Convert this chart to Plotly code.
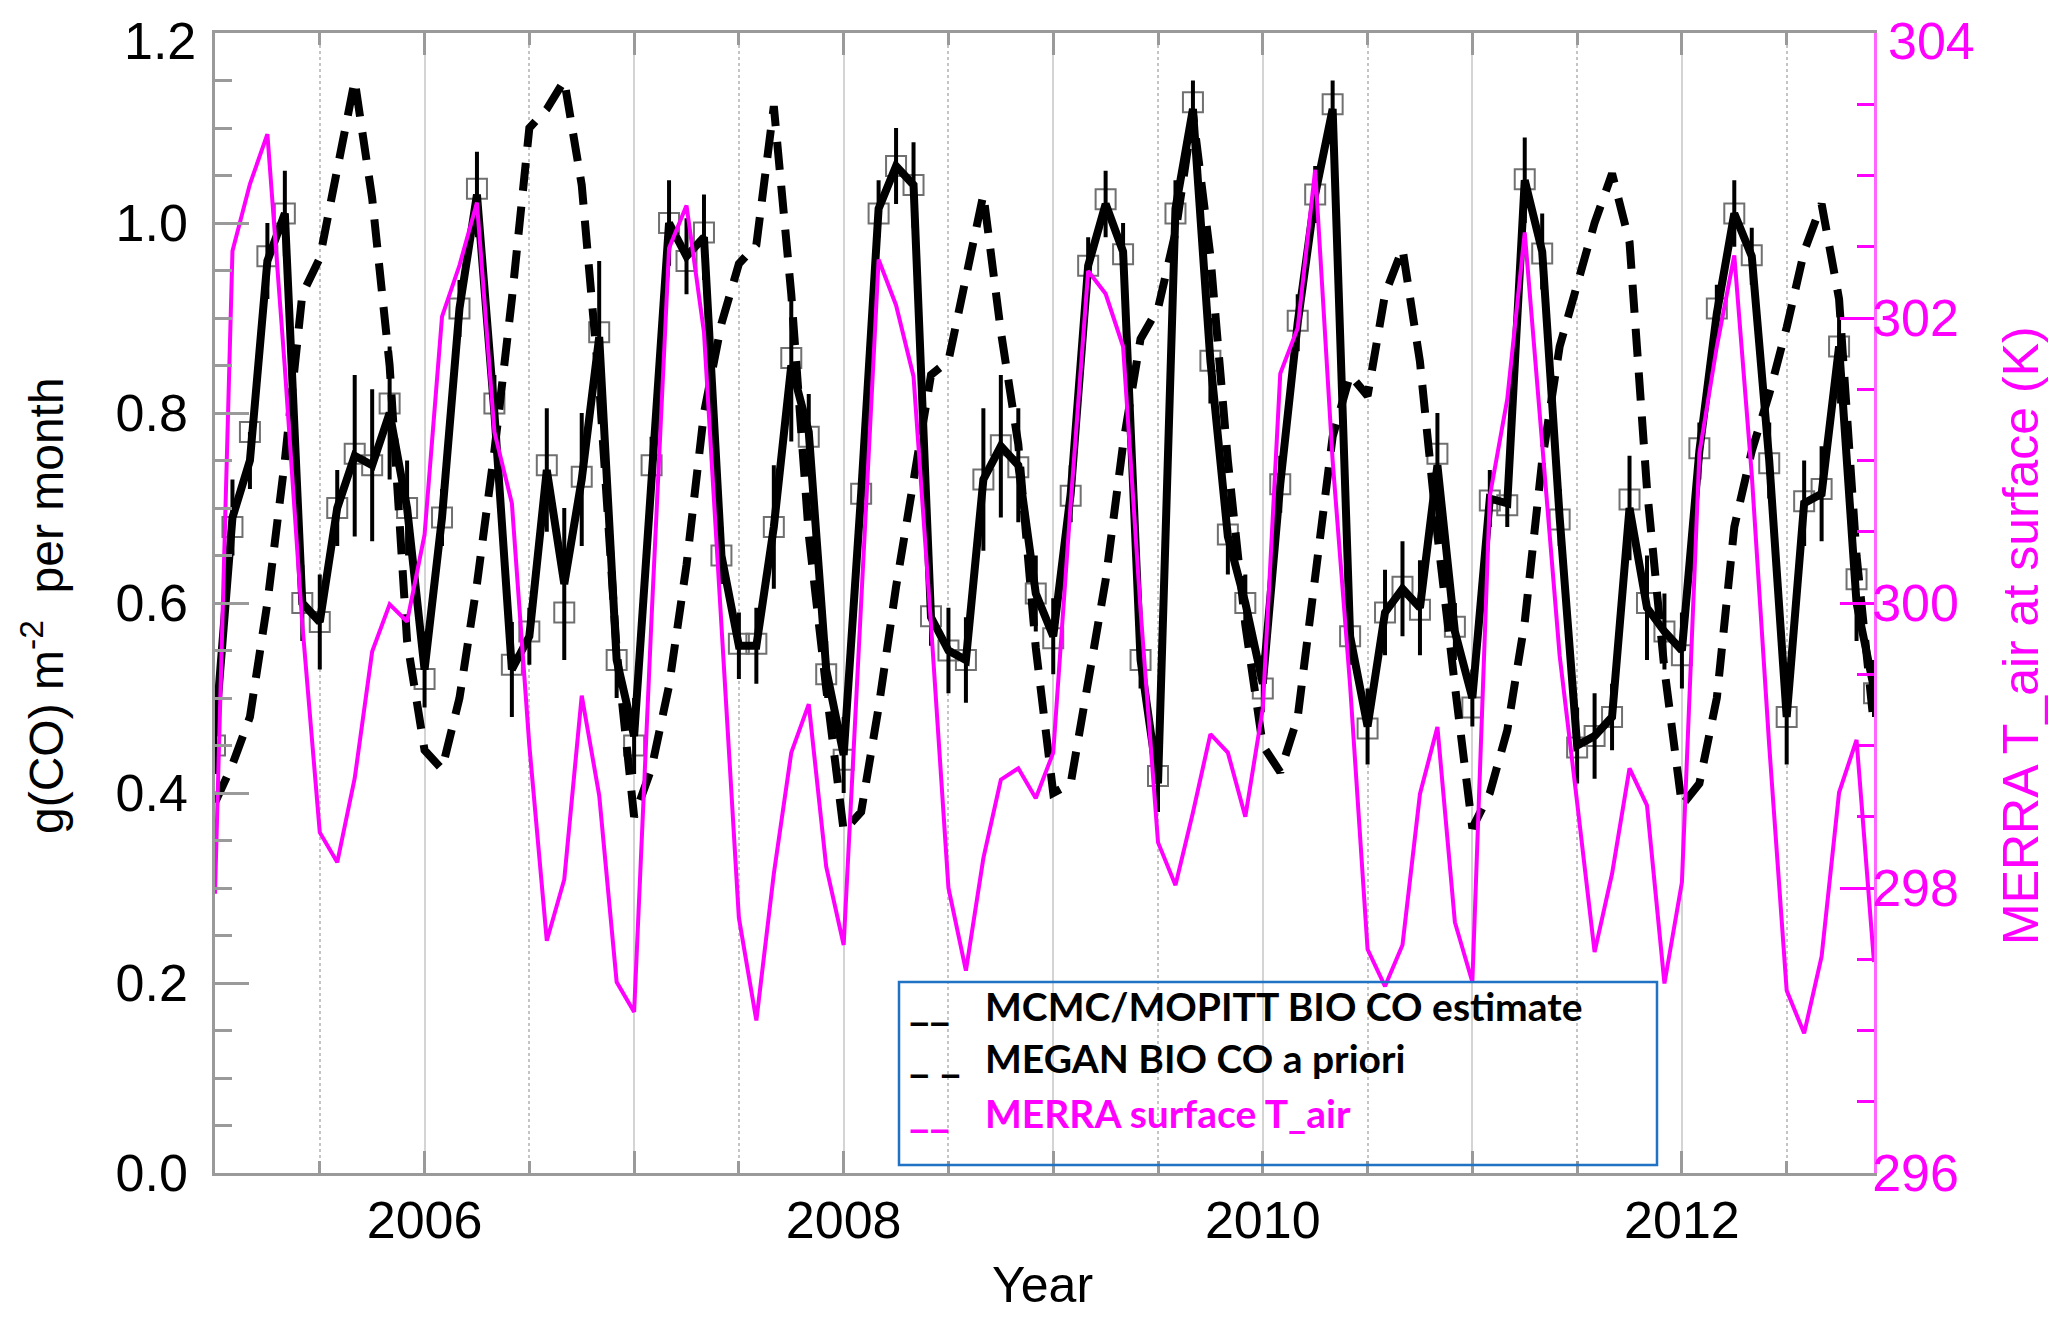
import plotly.graph_objects as go

# monthly values Jan 2005 - Dec 2012
months = [2005 + m / 12.0 for m in range(96)]

mcmc_co = [0.46, 0.69, 0.75, 0.96, 1.01, 0.60, 0.58, 0.70, 0.755, 0.745, 0.80, 0.70,
           0.53, 0.69, 0.91, 1.03, 0.80, 0.53, 0.565, 0.74, 0.62, 0.73, 0.88, 0.54,
           0.46, 0.745, 1.00, 0.965, 0.985, 0.65, 0.555, 0.555, 0.68, 0.85, 0.78, 0.53,
           0.44, 0.715, 1.015, 1.06, 1.04, 0.585, 0.55, 0.54, 0.73, 0.765, 0.745, 0.61,
           0.565, 0.715, 0.955, 1.02, 0.97, 0.54, 0.41, 1.015, 1.12, 0.855, 0.67, 0.60,
           0.515, 0.725, 0.895, 1.03, 1.12, 0.565, 0.47, 0.59, 0.615, 0.595, 0.745, 0.57,
           0.50, 0.71, 0.705, 1.045, 0.97, 0.69, 0.45, 0.46, 0.48, 0.70, 0.595, 0.57,
           0.55, 0.76, 0.905, 1.01, 0.965, 0.75, 0.48, 0.705, 0.715, 0.87, 0.60, 0.51]

mcmc_err = [0.04, 0.04, 0.03, 0.04, 0.045, 0.04, 0.05, 0.04, 0.085, 0.08, 0.07, 0.05,
            0.04, 0.03, 0.03, 0.045, 0.04, 0.05, 0.03, 0.065, 0.08, 0.07, 0.08, 0.04,
            0.04, 0.03, 0.045, 0.04, 0.045, 0.03, 0.035, 0.04, 0.065, 0.08, 0.04, 0.03,
            0.04, 0.03, 0.03, 0.04, 0.045, 0.03, 0.045, 0.045, 0.075, 0.075, 0.06, 0.04,
            0.04, 0.03, 0.03, 0.035, 0.03, 0.03, 0.03, 0.03, 0.03, 0.045, 0.04, 0.03,
            0.03, 0.03, 0.03, 0.03, 0.03, 0.03, 0.04, 0.045, 0.05, 0.05, 0.055, 0.03,
            0.03, 0.03, 0.025, 0.045, 0.04, 0.03, 0.04, 0.045, 0.035, 0.055, 0.055, 0.04,
            0.04, 0.03, 0.03, 0.035, 0.03, 0.04, 0.05, 0.045, 0.05, 0.06, 0.04, 0.03]

alt_co = [0.45, 0.68, 0.78, 0.965, 1.01, 0.60, 0.58, 0.70, 0.757, 0.745, 0.81, 0.70,
          0.52, 0.69, 0.91, 1.036, 0.81, 0.535, 0.57, 0.745, 0.59, 0.733, 0.885, 0.54,
          0.45, 0.745, 1.00, 0.96, 0.99, 0.65, 0.557, 0.557, 0.68, 0.858, 0.775, 0.525,
          0.435, 0.715, 1.01, 1.06, 1.04, 0.586, 0.55, 0.54, 0.73, 0.766, 0.743, 0.61,
          0.563, 0.713, 0.955, 1.025, 0.967, 0.54, 0.418, 1.01, 1.127, 0.855, 0.672, 0.60,
          0.51, 0.725, 0.897, 1.03, 1.125, 0.565, 0.468, 0.59, 0.617, 0.593, 0.757, 0.575,
          0.49, 0.708, 0.703, 1.046, 0.968, 0.688, 0.448, 0.46, 0.48, 0.709, 0.60, 0.57,
          0.545, 0.763, 0.91, 1.01, 0.966, 0.747, 0.48, 0.707, 0.72, 0.87, 0.625, 0.505]

megan_co = [0.39, 0.43, 0.48, 0.60, 0.75, 0.925, 0.963, 1.06, 1.15, 1.026, 0.85, 0.56,
            0.445, 0.425, 0.50, 0.62, 0.76, 0.92, 1.10, 1.12, 1.15, 1.04, 0.83, 0.55,
            0.375, 0.426, 0.513, 0.64, 0.80, 0.894, 0.957, 0.977, 1.123, 0.925, 0.672, 0.51,
            0.36, 0.38, 0.49, 0.617, 0.735, 0.84, 0.855, 0.94, 1.03, 0.886, 0.767, 0.553,
            0.40, 0.41, 0.514, 0.624, 0.767, 0.878, 0.91, 0.99, 1.115, 0.965, 0.75, 0.577,
            0.45, 0.422, 0.48, 0.624, 0.775, 0.84, 0.818, 0.925, 0.973, 0.854, 0.672, 0.513,
            0.363, 0.40, 0.466, 0.58, 0.75, 0.87, 0.935, 1.00, 1.052, 0.98, 0.72, 0.53,
            0.387, 0.41, 0.50, 0.68, 0.76, 0.82, 0.89, 0.97, 1.02, 0.92, 0.65, 0.47]

merra_tair = [297.96, 302.47, 302.94, 303.29, 301.65, 299.85, 298.39, 298.18, 298.77, 299.66, 299.99, 299.87,
              300.48, 302.01, 302.37, 302.81, 301.2, 300.7, 299.0, 297.63, 298.06, 299.35, 298.65, 297.34,
              297.13, 299.9, 302.49, 302.79, 301.9, 299.9, 297.79, 297.07, 298.1, 298.95, 299.29, 298.15,
              297.6, 300.0, 302.41, 302.09, 301.59, 299.85, 298.0, 297.42, 298.21, 298.76, 298.84, 298.63,
              298.95, 300.7, 302.33, 302.17, 301.8, 299.95, 298.32, 298.02, 298.53, 299.08, 298.95, 298.5,
              299.26, 301.61, 301.93, 303.04, 301.0, 299.42, 297.57, 297.31, 297.6, 298.66, 299.13, 297.76,
              297.34, 300.75, 301.43, 302.6, 301.1, 299.63, 298.6, 297.55, 298.1, 298.84, 298.58, 297.33,
              298.04, 301.05, 301.8, 302.44, 300.9, 299.0, 297.28, 296.98, 297.52, 298.67, 299.04, 297.48]

year_ticks = [2005, 2006, 2007, 2008, 2009, 2010, 2011, 2012]
year_labels = ['', '2006', '', '2008', '', '2010', '', '2012']
co_ticks = [0.0, 0.2, 0.4, 0.6, 0.8, 1.0]
co_top = '1.2'
tair_ticks = [296, 298, 300, 302]
tair_top = '304'

legend_rows = [('__', 'MCMC/MOPITT BIO CO estimate', 'black'),
               ('_ _', 'MEGAN BIO CO a priori', 'black'),
               ('__', 'MERRA surface T_air', '#ff00ff')]

W, H = 2067, 1327
L, R, T, B = 207, 201, 25, 162
PW, PH = W - L - R, H - T - B


def px(x):
    return (x - L) / PW


def py(y):
    return (H - B - y) / PH


AXIS_GRAY = '#9a9a9a'
MAGENTA = '#ff00ff'
FONT = 'Liberation Sans'
tick_font = dict(family=FONT, size=52, color='black')

fig = go.Figure()

fig.add_trace(go.Scatter(x=months, y=alt_co, mode='markers', name='alt',
                         marker=dict(symbol='square-open', size=20, color='#707070',
                                     line=dict(width=2, color='#707070'))))
fig.add_trace(go.Scatter(x=months, y=megan_co, mode='lines', name='MEGAN BIO CO a priori',
                         line=dict(color='black', width=8, dash='28px,16px')))
fig.add_trace(go.Scatter(x=months, y=mcmc_co, mode='lines', name='MCMC/MOPITT BIO CO estimate',
                         line=dict(color='black', width=8),
                         error_y=dict(type='data', array=mcmc_err, color='black',
                                      thickness=4, width=0)))
fig.add_trace(go.Scatter(x=months, y=merra_tair, mode='lines', name='MERRA surface T_air',
                         yaxis='y2', line=dict(color=MAGENTA, width=4)))

fig.update_layout(
    width=W, height=H,
    margin=dict(l=L, r=R, t=T, b=B, autoexpand=False),
    paper_bgcolor='white', plot_bgcolor='white',
    showlegend=False,
    xaxis=dict(range=[2005, 2005 + 95 / 12.0], tickmode='array', tickvals=year_ticks,
               ticktext=year_labels, ticks='inside', ticklen=22, tickwidth=2.5,
               tickcolor=AXIS_GRAY, showline=True, linecolor=AXIS_GRAY, linewidth=2.5,
               mirror='ticks', showgrid=True, gridcolor='#d4d4d4', gridwidth=1.5,
               zeroline=False, tickfont=tick_font, ticklabelstandoff=0,
               minor=dict(tickmode='linear', tick0=2005, dtick=0.5, ticks='inside',
                          ticklen=12, tickwidth=2.5, tickcolor=AXIS_GRAY, showgrid=True,
                          gridcolor='#c4c4c4', gridwidth=1.5, griddash='dot')),
    yaxis=dict(range=[0, 1.2], tickmode='array', tickvals=co_ticks, tickformat='.1f',
               ticks='inside', ticklen=34,
               tickwidth=2.5, tickcolor=AXIS_GRAY, showline=True, linecolor=AXIS_GRAY,
               linewidth=2.5, showgrid=False, zeroline=False, tickfont=tick_font,
               ticklabelstandoff=14,
               minor=dict(tickmode='linear', tick0=0, dtick=0.05, ticks='inside',
                          ticklen=17, tickwidth=2.5, tickcolor=AXIS_GRAY)),
    yaxis2=dict(range=[296, 304], tickmode='array', tickvals=tair_ticks,
                overlaying='y', side='right', anchor='x',
                ticks='inside', ticklen=34, tickwidth=2.5, tickcolor=MAGENTA,
                showline=True, linecolor='#ff66ff', linewidth=2.5, showgrid=False,
                zeroline=False, tickfont=dict(family=FONT, size=52, color=MAGENTA),
                ticklabelstandoff=-15,
                minor=dict(tickmode='linear', tick0=296, dtick=0.5, ticks='inside',
                           ticklen=17, tickwidth=2.5, tickcolor=MAGENTA)),
)

# top tick labels sit just under the frame, as in the original
fig.add_annotation(x=px(190), y=py(2), xref='paper', yref='paper', xanchor='right',
                   yanchor='top', text=co_top, showarrow=False, font=tick_font)
fig.add_annotation(x=px(1878), y=py(2), xref='paper', yref='paper', xanchor='left',
                   yanchor='top', text=tair_top, showarrow=False,
                   font=dict(family=FONT, size=52, color=MAGENTA))

# axis titles
fig.add_annotation(x=px(35), y=py(598), xref='paper', yref='paper', textangle=-90,
                   xanchor='center', yanchor='middle',
                   text='g(CO) m<sup>-2</sup>  per month', showarrow=False,
                   font=dict(family=FONT, size=48, color='black'))
fig.add_annotation(x=px(2013), y=py(628), xref='paper', yref='paper', textangle=-90,
                   xanchor='center', yanchor='middle',
                   text='MERRA T_air at surface (K)', showarrow=False,
                   font=dict(family=FONT, size=50, color=MAGENTA))
fig.add_annotation(x=px(1034), y=py(1277), xref='paper', yref='paper',
                   xanchor='center', yanchor='middle',
                   text='Year', showarrow=False,
                   font=dict(family=FONT, size=50, color='black'))

# legend box drawn over the plot
fig.add_shape(type='rect', xref='paper', yref='paper',
              x0=px(891), x1=px(1649), y0=py(1157), y1=py(974),
              line=dict(color='#1f72c4', width=2.5), fillcolor='rgba(0,0,0,0)')
row_y = [1023, 1075, 1130]
for (sym, label, col), yy in zip(legend_rows, row_y):
    fig.add_annotation(x=px(899), y=py(yy), xref='paper', yref='paper', xanchor='left',
                       yanchor='bottom', text='<b>' + sym + '</b>', showarrow=False,
                       font=dict(family='Lato', size=44, color=col))
    fig.add_annotation(x=px(975), y=py(yy), xref='paper', yref='paper', xanchor='left',
                       yanchor='bottom', text='<b>' + label + '</b>', showarrow=False,
                       font=dict(family='Lato', size=39, color=col))

fig.write_html("out.html")
